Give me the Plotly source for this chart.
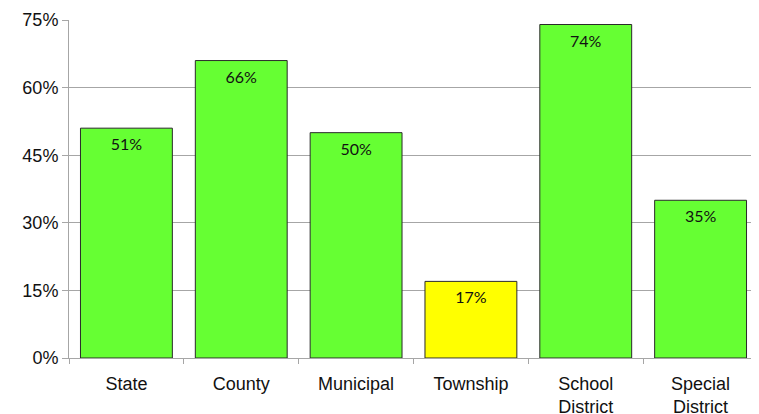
import plotly.graph_objects as go

categorias = ["State", "County", "Municipal", "Township", "School<br>District", "Special<br>District"]
valores = [51, 66, 50, 17, 74, 35]
rotulos = ["51%", "66%", "50%", "17%", "74%", "35%"]
cores = ["#66ff33", "#66ff33", "#66ff33", "#ffff00", "#66ff33", "#66ff33"]
ticks_y = [0, 15, 30, 45, 60, 75]
ticks_y_txt = ["0%", "15%", "30%", "45%", "60%", "75%"]

cinza = "#a6a6a6"

fig = go.Figure()
fig.add_trace(go.Bar(
    x=categorias,
    y=valores,
    marker=dict(color=cores, line=dict(color="#2a2a2a", width=1)),
    hoverinfo="skip",
))
# rotulos dentro da barra, um pouco abaixo do topo
fig.add_trace(go.Scatter(
    x=categorias,
    y=[v - 4 for v in valores],
    mode="text",
    text=rotulos,
    textposition="middle center",
    textfont=dict(family="Lato", size=16, color="#111111"),
    hoverinfo="skip",
))

# a pagina tem margem de 8px no body, entao as margens compensam isso
fig.update_layout(
    width=759,
    height=414,
    showlegend=False,
    bargap=0.2,
    plot_bgcolor="white",
    paper_bgcolor="white",
    margin=dict(l=61, r=9, t=12, b=64, autoexpand=False),
    font=dict(family="Liberation Sans, Arial", size=18, color="#111111"),
)
fig.update_xaxes(
    showline=True, linecolor=cinza, linewidth=1,
    ticks="outside", tickson="boundaries", ticklen=5, tickcolor=cinza,
    ticklabelstandoff=9, automargin=False,
    showgrid=False,
)
fig.update_yaxes(
    range=[0, 75],
    tickvals=ticks_y, ticktext=ticks_y_txt,
    showline=True, linecolor=cinza, linewidth=1,
    ticks="outside", ticklen=6, tickcolor=cinza,
    showgrid=True, gridcolor=cinza, gridwidth=1,
    zeroline=False, automargin=False,
)

fig.write_html("out.html")
